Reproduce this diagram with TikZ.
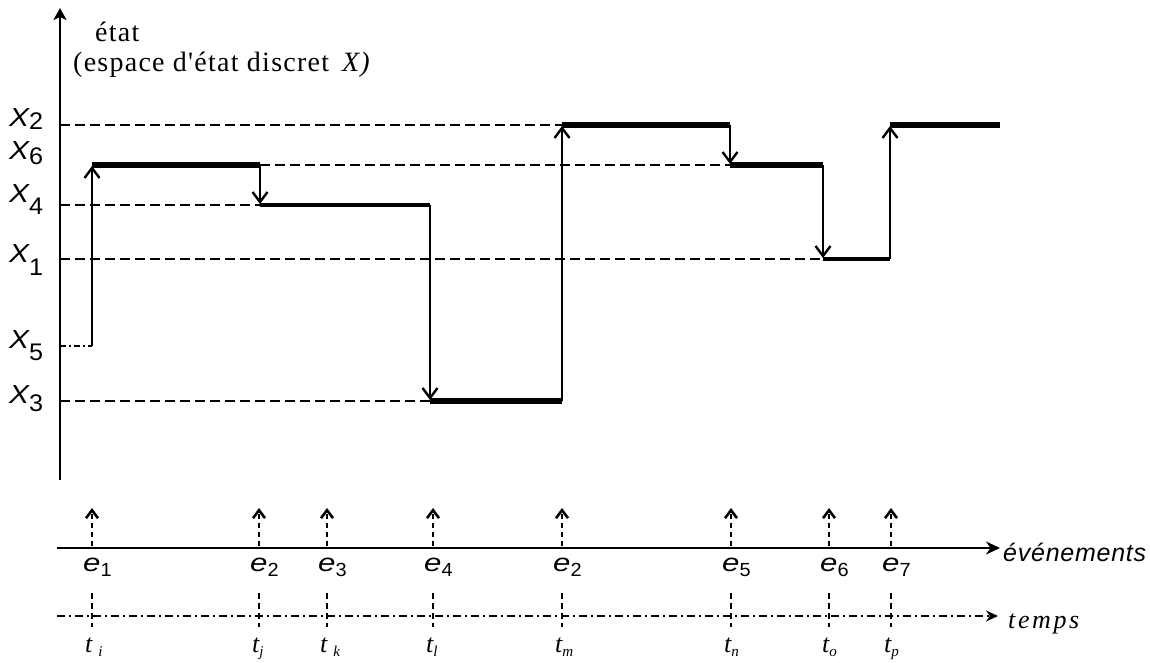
\documentclass[tikz,border=0pt]{standalone}
\usepackage{fontspec}
\usepackage{graphicx}
\setmainfont{Liberation Serif}
\newfontfamily\lblsans{Liberation Sans}
\newfontfamily\lblserif[LetterSpace=4.5]{Liberation Serif}
\newfontfamily\timeserif[LetterSpace=10]{Liberation Serif}
\newfontfamily\evsans[LetterSpace=3]{Liberation Sans}
\usetikzlibrary{arrows.meta}

% state label: wide italic X with an upright digit lowered by #2
\newcommand\statelab[2]{\scalebox{1.15}[1]{\lblsans\fontsize{26}{26}\selectfont\itshape X}\raisebox{-#2}{\scalebox{1.05}[1]{\lblsans\fontsize{24}{24}\selectfont #1}}}
% event label: wide italic e with a lowered digit
\newcommand\evlab[1]{\scalebox{1.25}[1]{\lblsans\fontsize{25}{25}\selectfont\itshape e}\raisebox{-5pt}{\scalebox{1.05}[1]{\lblsans\fontsize{19}{19}\selectfont #1}}}
% date label: italic t with a lowered italic letter
\newcommand\tlab[2]{{\fontsize{26}{26}\selectfont\itshape t}\hspace{#2}\raisebox{-4pt}{\fontsize{15}{15}\selectfont\itshape #1}}

\begin{document}
\begin{tikzpicture}[x=1pt,y=-1pt,
  axisline/.style={line width=2.4pt},
  level/.style={line width=1.8pt,dash pattern=on 10pt off 5pt},
  leveldot/.style={line width=1.8pt,dash pattern=on 6pt off 3pt on 2pt off 3pt},
  heavy/.style={line width=5.5pt},
  medium/.style={line width=3.8pt},
  jump/.style={line width=2pt,-{Straight Barb[length=10pt,width=15pt,line width=2.4pt]}},
  evarrow/.style={line width=1.6pt,dash pattern=on 5pt off 4pt,-{Straight Barb[length=8pt,width=12pt,line width=2.6pt]}},
  tick/.style={line width=1.6pt,dash pattern=on 6pt off 4pt},
  lab/.style={inner sep=0pt,anchor=base west}]
\useasboundingbox (0,0) rectangle (1150,663);

% state axis
\coordinate (yb) at (60,480);
\coordinate (yt) at (60,8);
\draw[axisline,-{Stealth[length=12pt,width=13pt,inset=3pt]}] (yb) -- (yt);
\node[lab] (t1) at (95,42) {\lblserif\fontsize{28}{28}\selectfont état};
\node[lab] (t2) at (73,72) {\lblserif\fontsize{28}{28}\selectfont (espace d'état discret \,\textit{X)}};

% state levels on the axis
\coordinate (a2) at (60,125);
\coordinate (a6) at (60,165);
\coordinate (a4) at (60,205);
\coordinate (a1) at (60,259);
\coordinate (a5) at (60,346);
\coordinate (a3) at (60,401);

\node[lab] (lX2) at (9,127) {\statelab{2}{3pt}};
\node[lab] (lX6) at (9,160) {\statelab{6}{5pt}};
\node[lab] (lX4) at (9,202) {\statelab{4}{12pt}};
\node[lab] (lX1) at (9,262) {\statelab{1}{13pt}};
\node[lab] (lX5) at (9,348) {\statelab{5}{12pt}};
\node[lab] (lX3) at (9,403) {\statelab{3}{8pt}};

% trajectory corners
\coordinate (p1) at (92,346);
\coordinate (p2) at (92,165);
\coordinate (p3) at (260,165);
\coordinate (p4) at (260,205);
\coordinate (p5) at (430,205);
\coordinate (p6) at (430,401);
\coordinate (p7) at (562,401);
\coordinate (p8) at (562,125);
\coordinate (p9) at (730,125);
\coordinate (p10) at (730,165);
\coordinate (p11) at (823,165);
\coordinate (p12) at (823,259);
\coordinate (p13) at (890,259);
\coordinate (p14) at (890,125);
\coordinate (p15) at (1000,125);

% reference levels
\draw[level] (a2) -- (p8);
\draw[level] (p3) -- (p10);
\draw[level] (a4) -- (p4);
\draw[level] (a1) -- (p12);
\draw[level] (a3) -- (p6);
\draw[leveldot] (a5) -- (p1);

% sojourns in each state
\draw[heavy] (p2) -- (p3);
\draw[medium] (p4) -- (p5);
\draw[heavy] (p6) -- (p7);
\draw[heavy] (p8) -- (p9);
\draw[heavy] (p10) -- (p11);
\draw[medium] (p12) -- (p13);
\draw[heavy] (p14) -- (p15);

% transitions
\draw[jump] (p1) -- ([yshift=-1pt]p2);
\draw[jump] (p3) -- ([yshift=1pt]p4);
\draw[jump] (p5) -- ([yshift=1pt]p6);
\draw[jump] (p7) -- ([yshift=-1pt]p8);
\draw[jump] (p9) -- ([yshift=1pt]p10);
\draw[jump] (p11) -- ([yshift=1pt]p12);
\draw[jump] (p13) -- ([yshift=-1pt]p14);

% event axis and time axis
\coordinate (eb) at (57,548);
\coordinate (ee) at (1000,548);
\draw[line width=2.8pt,-{Stealth[length=14pt,width=13pt]}] (eb) -- (ee);
\node[lab] (evt) at (1003,561) {\evsans\fontsize{25}{25}\selectfont\itshape événements};
\coordinate (tb) at (57,616);
\coordinate (te) at (998,616);
\draw[line width=1.8pt,dash pattern=on 8pt off 4pt on 2pt off 4pt,-{Stealth[length=12pt,width=11pt]}] (tb) -- (te);
\node[lab] (tmp) at (1008,628) {\timeserif\fontsize{26}{26}\selectfont\itshape temps};

% occurrences: event arrows, event labels, date ticks and date labels
\foreach \n/\x/\e/\t/\g in {1/92/1/i/6pt, 2/259/2/j/0pt, 3/327/3/k/6pt, 4/433/4/l/0pt,
                           5/562/2/m/0pt, 6/731/5/n/0pt, 7/829/6/o/0pt, 8/891/7/p/0pt}{
  \coordinate (ea\n) at (\x,546);
  \coordinate (eh\n) at (\x,508);
  \draw[evarrow] (ea\n) -- (eh\n);
  \node[lab] (el\n) at (\x-9,571) {\evlab{\e}};
  \coordinate (ka\n) at (\x,593);
  \coordinate (kb\n) at (\x,627);
  \draw[tick] (ka\n) -- (kb\n);
  \node[lab] (tl\n) at (\x-7,652) {\tlab{\t}{\g}};
}
\end{tikzpicture}
\end{document}
